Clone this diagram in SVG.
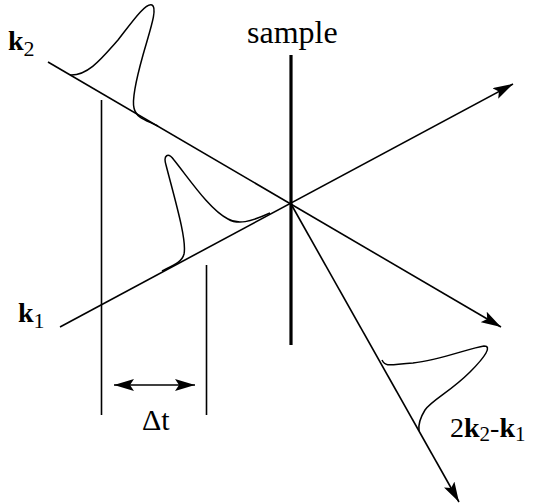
<svg xmlns="http://www.w3.org/2000/svg" width="541" height="504" viewBox="0 0 541 504">
<style>
.ln{stroke:#000;stroke-width:1.6;fill:none}
.pl{stroke:#000;stroke-width:1.5;fill:none}
.b{font-weight:bold}
.tx{font-family:'Liberation Serif','DejaVu Serif',serif;fill:#000}
</style>
<defs>
<marker id="ah" viewBox="0 0 20 12" refX="20" refY="6" markerWidth="20" markerHeight="12" markerUnits="userSpaceOnUse" orient="auto-start-reverse">
<path d="M0,0 L20,6 L0,12 L4,6 Z" fill="#000"/>
</marker>
</defs>
<rect width="541" height="504" fill="#fff"/>
<g id="connectors">
<line class="ln" x1="48" y1="62" x2="501" y2="327" marker-end="url(#ah)"/>
<line class="ln" x1="60" y1="327" x2="513" y2="84" marker-end="url(#ah)"/>
<line class="ln" x1="291" y1="204" x2="459" y2="502" marker-end="url(#ah)"/>
<line x1="291" y1="55" x2="291" y2="345" stroke="#000" stroke-width="3.2"/>
<line class="ln" x1="101.5" y1="100" x2="101.5" y2="415"/>
<line class="ln" x1="206.5" y1="265" x2="206.5" y2="415"/>
<line class="ln" x1="114" y1="385" x2="195" y2="385" marker-start="url(#ah)" marker-end="url(#ah)"/>
</g>
<g id="pulse-k2">
<path class="pl" d="M70,75 C88,76 102,58 118,40 C132,22 146,2 152,5 C158,8 150,30 143,55 C136,80 132,100 134,108 C136,118 146,120 158,126"/>
</g>
<g id="pulse-k1">
<path class="pl" d="M162,271 C174,265 182,262 184,254 C187,240 175,200 166,165 C163,155 168,152 174,160 C190,180 210,210 228,219 C238,225 250,222 270,213"/>
</g>
<g id="pulse-out">
<path class="pl" d="M382,360 C386,368 392,364 413,363 C440,360 470,348 484,346 C492,346 486,356 470,372 C450,392 432,400 425,410 C420,418 418,424 419,431"/>
</g>
<g id="label-sample"><text class="tx" x="247" y="43" font-size="32">sample</text></g>
<g id="label-k2"><text class="tx" x="8" y="50" font-size="28"><tspan class="b">k</tspan><tspan font-size="22" dy="6">2</tspan></text></g>
<g id="label-k1"><text class="tx" x="18" y="322" font-size="28"><tspan class="b">k</tspan><tspan font-size="22" dy="6">1</tspan></text></g>
<g id="label-dt"><text class="tx" x="142" y="430" font-size="30">Δt</text></g>
<g id="label-out"><text class="tx" x="450" y="437" font-size="28">2<tspan class="b">k</tspan><tspan font-size="21" dy="4">2</tspan><tspan dy="-4">-</tspan><tspan class="b">k</tspan><tspan font-size="21" dy="4">1</tspan></text></g>
</svg>
